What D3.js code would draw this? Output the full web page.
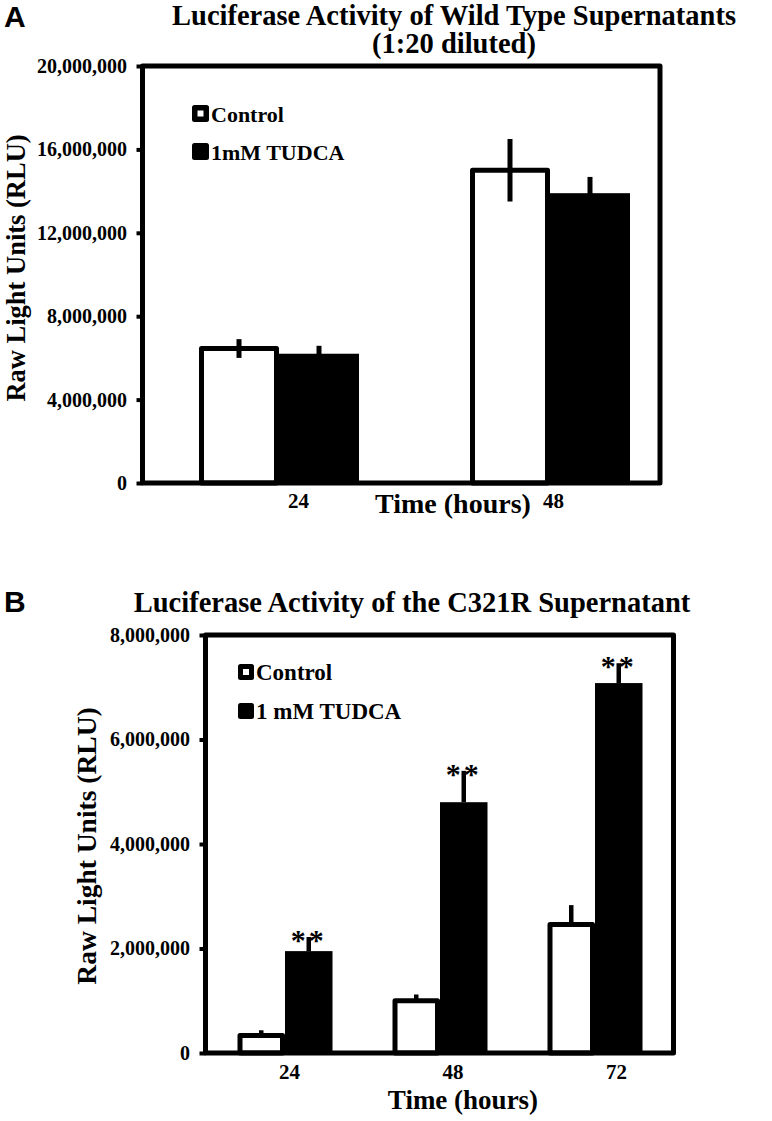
<!DOCTYPE html>
<html>
<head>
<meta charset="utf-8">
<script src="https://cdn.jsdelivr.net/npm/d3@7"></script>
<style>
  html, body { margin: 0; padding: 0; background: #fff; }
  svg { display: block; }
  text { font-family: "Liberation Serif", "Times New Roman", serif; font-weight: bold; fill: #000; }
</style>
</head>
<body>
<svg id="chart" width="772" height="1121"></svg>
<script>
// ---------------- DATA ----------------
// Panel A
const catsA = ["24", "48"];
const seriesNamesA = ["Control", "1mM TUDCA"];
const controlA = [6450000, 15000000];
const controlErrA = [450000, 1500000];
const tudcaA = [6200000, 13900000];
const tudcaErrA = [380000, 780000];
const ticksA = [0, 4000000, 8000000, 12000000, 16000000, 20000000];
const titleA = ["Luciferase Activity of Wild Type Supernatants", "(1:20 diluted)"];

// Panel B
const catsB = ["24", "48", "72"];
const seriesNamesB = ["Control", "1 mM TUDCA"];
const controlB = [335000, 1000000, 2460000];
const controlErrB = [100000, 120000, 370000];
const tudcaB = [1950000, 4800000, 7080000];
const tudcaErrB = [270000, 600000, 380000];
const sigB = ["**", "**", "**"];
const ticksB = [0, 2000000, 4000000, 6000000, 8000000];
const titleB = ["Luciferase Activity of the C321R Supernatant"];

const yTitle = "Raw Light Units (RLU)";
const xTitle = "Time (hours)";

// ---------------- DRAW ----------------
const svg = d3.select("#chart");
const fmt = d3.format(",");

function panel(cfg) {
  const g = svg.append("g");
  const y = d3.scaleLinear().domain(cfg.yDomain).range([cfg.bottom, cfg.top]);
  const xg = d3.scalePoint().domain(cfg.cats).range(cfg.groupRange);
  const xl = d3.scalePoint().domain(cfg.cats).range(cfg.labelRange);
  const xs = d3.scaleBand().domain(["c", "t"]).range([-cfg.slot, cfg.slot]);

  // y axis ticks + labels
  const ya = g.append("g").attr("transform", `translate(${cfg.left},0)`)
    .call(d3.axisLeft(y).tickValues(cfg.ticks).tickFormat(fmt).tickSize(6).tickPadding(9.5));
  ya.select(".domain").remove();
  ya.selectAll(".tick line").attr("stroke", "#000").attr("stroke-width", 4);
  ya.selectAll(".tick text").style("font-size", cfg.tickFont + "px")
    .style("font-family", '"Liberation Serif", "Times New Roman", serif').style("font-weight", "bold");

  // x axis labels
  const xa = g.append("g").attr("transform", `translate(0,${cfg.bottom})`)
    .call(d3.axisBottom(xl).tickSize(0).tickPadding(cfg.xPad));
  xa.select(".domain").remove();
  xa.selectAll(".tick text").style("font-size", cfg.xFont + "px")
    .style("font-family", '"Liberation Serif", "Times New Roman", serif').style("font-weight", "bold");

  const sw = cfg.barStroke;
  // TUDCA bars (filled)
  g.selectAll(".tb").data(cfg.cats).enter().append("rect")
    .attr("x", d => xg(d) + xs("t"))
    .attr("y", (d, i) => y(cfg.tudca[i]))
    .attr("width", xs.bandwidth())
    .attr("height", (d, i) => y(0) - y(cfg.tudca[i]))
    .attr("fill", "#000");
  // TUDCA error bars
  g.selectAll(".te").data(cfg.cats).enter().append("line")
    .attr("x1", d => xg(d) + xs("t") + xs.bandwidth() / 2)
    .attr("x2", d => xg(d) + xs("t") + xs.bandwidth() / 2)
    .attr("y1", (d, i) => y(cfg.tudca[i] + cfg.tudcaErr[i]))
    .attr("y2", (d, i) => y(cfg.tudca[i] - (cfg.twoSided ? cfg.tudcaErr[i] : 0)))
    .attr("stroke", "#000").attr("stroke-width", cfg.errStroke);
  // Control bars (outlined)
  g.selectAll(".cb").data(cfg.cats).enter().append("rect")
    .attr("x", d => xg(d) + xs("c") + sw / 2)
    .attr("y", (d, i) => y(cfg.control[i]))
    .attr("width", xs.bandwidth() - sw)
    .attr("height", (d, i) => y(0) - y(cfg.control[i]))
    .attr("fill", "#fff").attr("stroke", "#000").attr("stroke-width", sw)
    .attr("stroke-linejoin", "round");
  // Control error bars
  g.selectAll(".ce").data(cfg.cats).enter().append("line")
    .attr("x1", d => xg(d) + xs("c") + xs.bandwidth() / 2)
    .attr("x2", d => xg(d) + xs("c") + xs.bandwidth() / 2)
    .attr("y1", (d, i) => y(cfg.control[i] + cfg.controlErr[i]))
    .attr("y2", (d, i) => y(cfg.control[i] - (cfg.twoSided ? cfg.controlErr[i] : 0)))
    .attr("stroke", "#000").attr("stroke-width", cfg.errStroke);

  // significance stars
  if (cfg.sig) {
    g.selectAll(".sig").data(cfg.cats).enter().append("text")
      .attr("x", d => xg(d) + xs("t") + xs.bandwidth() / 2)
      .attr("y", (d, i) => y(cfg.tudca[i] + cfg.tudcaErr[i]) + 13)
      .attr("text-anchor", "middle")
      .style("font-size", "30px").style("letter-spacing", "3px")
      .text((d, i) => cfg.sig[i]);
  }

  // frame
  g.append("rect")
    .attr("x", cfg.left).attr("y", cfg.top)
    .attr("width", cfg.right - cfg.left).attr("height", cfg.bottom - cfg.top)
    .attr("fill", "none").attr("stroke", "#000").attr("stroke-width", cfg.frameStroke)
    .attr("stroke-linejoin", "round");

  // legend
  cfg.names.forEach((n, i) => {
    const ly = cfg.legY + i * cfg.legGap;
    g.append("rect").attr("x", cfg.legX).attr("y", ly - cfg.legBox)
      .attr("width", cfg.legBox).attr("height", cfg.legBox).attr("rx", 2.5)
      .attr("fill", "#000");
    if (i === 0) {
      g.append("rect").attr("x", cfg.legX + cfg.legBox / 2 - 3).attr("y", ly - cfg.legBox / 2 - 3)
        .attr("width", 6).attr("height", 6).attr("fill", "#fff");
    }
    g.append("text").attr("x", cfg.legX + cfg.legBox + 2).attr("y", ly)
      .style("font-size", cfg.legFont + "px").text(n);
  });

  // titles
  cfg.title.forEach((t, i) => {
    svg.append("text").attr("x", cfg.titleX).attr("y", cfg.titleY + i * 28)
      .attr("text-anchor", "middle").style("font-size", "28.5px").text(t);
  });
  svg.append("text").attr("transform", `translate(${cfg.yTitleX},${cfg.yTitleY}) rotate(-90)`)
    .attr("text-anchor", "middle").style("font-size", cfg.yTitleFont + "px").text(yTitle);
  svg.append("text").attr("x", cfg.xTitleX).attr("y", cfg.xTitleY)
    .attr("text-anchor", "middle").style("font-size", cfg.xTitleFont + "px").text(xTitle);
  svg.append("text").attr("x", 4).attr("y", cfg.letterY)
    .style("font-family", '"Liberation Sans", Arial, sans-serif').style("font-weight", "bold")
    .style("font-size", "30px").text(cfg.letter);
}

panel({
  cats: catsA, names: seriesNamesA, control: controlA, controlErr: controlErrA,
  tudca: tudcaA, tudcaErr: tudcaErrA, ticks: ticksA, yDomain: [0, 20000000],
  left: 142.5, right: 660, top: 66, bottom: 483,
  groupRange: [279, 550], labelRange: [298, 553], slot: 80,
  barStroke: 5, errStroke: 5, frameStroke: 5, twoSided: true,
  tickFont: 20, xFont: 21, xPad: 10,
  legX: 192, legY: 122, legGap: 38, legBox: 17, legFont: 22,
  title: titleA, titleX: 454, titleY: 25,
  yTitleX: 25, yTitleY: 268, yTitleFont: 26.5, xTitleX: 453, xTitleY: 513, xTitleFont: 28,
  letter: "A", letterY: 27
});

panel({
  cats: catsB, names: seriesNamesB, control: controlB, controlErr: controlErrB,
  tudca: tudcaB, tudcaErr: tudcaErrB, sig: sigB, ticks: ticksB, yDomain: [0, 8000000],
  left: 205.5, right: 673.5, top: 635, bottom: 1053,
  groupRange: [285, 595], labelRange: [289, 616], slot: 47.5,
  barStroke: 5, errStroke: 4.5, frameStroke: 5, twoSided: false,
  tickFont: 20, xFont: 21, xPad: 11,
  legX: 238, legY: 680, legGap: 39, legBox: 16, legFont: 23,
  title: titleB, titleX: 412, titleY: 612,
  yTitleX: 96, yTitleY: 846, yTitleFont: 27.5, xTitleX: 463, xTitleY: 1109, xTitleFont: 27,
  letter: "B", letterY: 612
});
</script>
</body>
</html>
